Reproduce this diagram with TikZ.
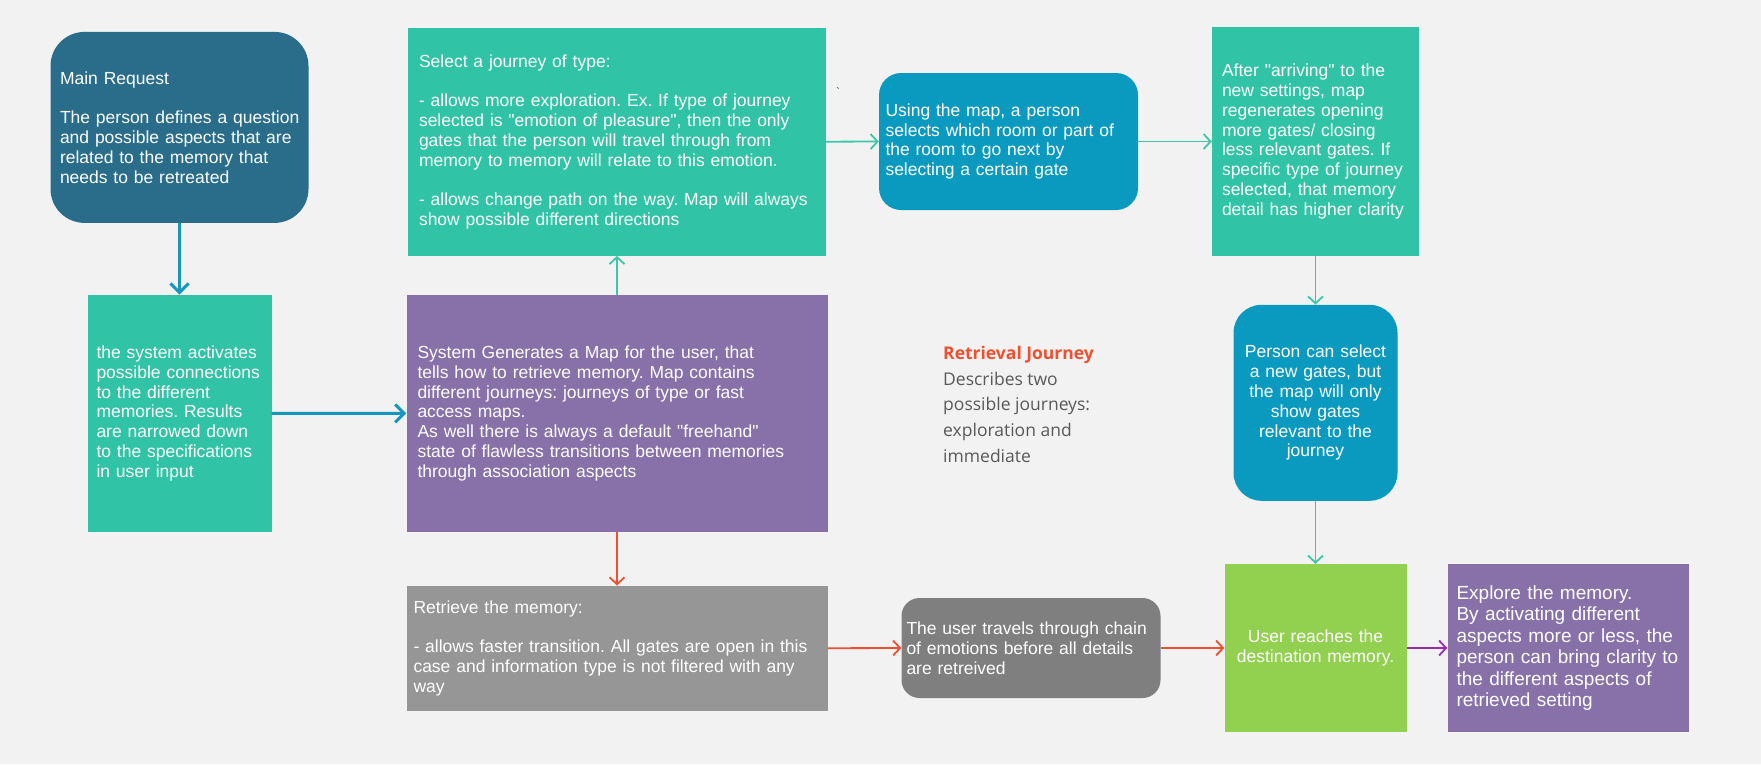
\documentclass[tikz,border=0pt]{standalone}
\usepackage{fontspec}
\setmainfont{Liberation Sans}
\newfontfamily\notefont{Open Sans}
\usetikzlibrary{arrows.meta}
\definecolor{paper}{HTML}{F2F2F2}
\definecolor{deepteal}{HTML}{296D8A}
\definecolor{mint}{HTML}{31C3A5}
\definecolor{violet}{HTML}{8870A9}
\definecolor{ocean}{HTML}{0B9ABF}
\definecolor{stone}{HTML}{969696}
\definecolor{slate}{HTML}{7F7F7F}
\definecolor{lime}{HTML}{92D050}
\definecolor{flowblue}{HTML}{1597BE}
\definecolor{flowmint}{HTML}{3CC8A8}
\definecolor{flowred}{HTML}{F0502F}
\definecolor{flowviolet}{HTML}{9A2BB0}
\definecolor{note}{HTML}{595959}
\frenchspacing
\hyphenpenalty=10000
\newcommand{\qq}{\textquotedbl}

\begin{document}
\begin{tikzpicture}[x=1pt,y=-1pt,text=white,
  font=\fontsize{17.5}{19.8}\selectfont,
  >={Straight Barb[length=7pt,width=15pt]},
  card/.style={inner ysep=0pt,align=left},
  mid/.style={inner ysep=0pt,align=center},
  thin/.style={line width=1.8pt,->},
  thick/.style={line width=3pt,-{Straight Barb[length=9pt,width=18pt]}}]
  \fill[paper] (0,0) rectangle (1761,764);
  \useasboundingbox (0,0) rectangle (1761,764);

  % left column
  \node[card,fill=deepteal,rounded corners=34pt,text width=246pt,
    inner xsep=6pt,minimum height=191pt] (mainreq) at (179.5,127.4)
    {\hspace*{3.5pt}Main Request\\[19.8pt]
     \hspace*{3.5pt}The person defines a question\\
     \hspace*{3.5pt}and possible aspects that are\\
     \hspace*{3.5pt}related to the memory that\\
     \hspace*{3.5pt}needs to be retreated};
  \node[card,fill=mint,text width=166pt,inner xsep=9pt,
    minimum height=237pt] (activate) at (179.5,413.3)
    {the system activates\\possible connections\\to the different\\
     memories. Results\\are narrowed down\\to the specifications\\
     in user input};

  % middle column
  \node[card,fill=mint,text width=396pt,inner xsep=11pt,
    minimum height=228pt] (seltype) at (617,141.7)
    {Select a journey of type:\\[19.8pt]
     - allows more exploration. Ex. If type of journey\\
     selected is \qq emotion of pleasure\qq, then the only\\
     gates that the person will travel through from\\
     memory to memory will relate to this emotion.\\[19.8pt]
     - allows change path on the way. Map will always\\
     show possible different directions};
  \node[card,fill=violet,text width=399pt,inner xsep=11pt,
    minimum height=237pt] (genmap) at (617,413.4)
    {System Generates a Map for the user, that\\
     tells how to retrieve memory. Map contains\\
     different journeys: journeys of type or fast\\
     access maps.\\
     As well there is always a default \qq freehand\qq\\
     state of flawless transitions between memories\\
     through association aspects};
  \node[card,fill=stone,text width=407pt,inner xsep=7pt,
    minimum height=125pt] (retrieve) at (617,648.2)
    {Retrieve the memory:\\[19.8pt]
     - allows faster transition. All gates are open in this\\
     case and information type is not filtered with any\\
     way};
  \node[text=black!70,font=\fontsize{12}{12}\selectfont] (tick)
    at (838,92) {\textasciigrave};

  % right part
  \node[card,fill=ocean,rounded corners=22pt,text width=246pt,
    inner xsep=6.5pt,minimum height=137pt] (usemap) at (1008.5,141.5)
    {Using the map, a person\\selects which room or part of\\
     the room to go next by\\selecting a certain gate};
  \node[card,fill=mint,text width=187pt,inner xsep=10pt,
    minimum height=229pt] (arrive) at (1315.5,141.5)
    {After \qq arriving\qq{} to the\\new settings, map\\
     regenerates opening\\more gates/ closing\\
     less relevant gates. If\\specific type of journey\\
     selected, that memory\\detail has higher clarity};
  \node[mid,fill=ocean,rounded corners=28pt,text width=156pt,
    inner xsep=4pt,minimum height=196pt] (selgate) at (1315.5,402.8)
    {Person can select\\a new gates, but\\the map will only\\
     show gates\\relevant to the\\journey};
  \node[card,fill=slate,rounded corners=18pt,text width=249pt,
    inner xsep=5pt,minimum height=100pt] (travel) at (1031,648)
    {The user travels through chain\\
     of emotions before all details\\are retreived};
  \node[mid,fill=lime,text width=174pt,inner xsep=4pt,
    minimum height=168pt,font=\fontsize{17.5}{20.5}\selectfont]
    (reach) at (1315.5,648)
    {User reaches the\\destination memory.};
  \node[card,fill=violet,text width=223pt,inner xsep=9pt,
    minimum height=168pt,font=\fontsize{19}{21.4}\selectfont]
    (explore) at (1568,648)
    {Explore the memory.\\By activating different\\
     aspects more or less, the\\person can bring clarity to\\
     the different aspects of\\retrieved setting};

  % legend
  \node[anchor=north west,inner sep=0pt,align=left,text=note,
    font=\notefont\fontsize{17.5}{25.7}\selectfont] (legend) at (943,346)
    {\textcolor{flowred}{\bfseries Retrieval Journey}\\Describes two\\
     possible journeys:\\exploration and\\immediate};

  % connectors
  \draw[thick,flowblue] (mainreq.south) -- (activate.north);
  \draw[thick,flowblue] (activate.east) -- (genmap.west);
  \draw[thin,flowmint] (genmap.north) -- (seltype.south);
  \draw[thin,flowmint] (seltype.east) -- (usemap.west);
  \draw[thin,flowmint] (usemap.east) -- (arrive.west);
  \draw[thin,flowmint] (arrive.south) -- (selgate.north);
  \draw[thin,flowmint] (selgate.south) -- (reach.north);
  \draw[thin,flowred] (genmap.south) -- (retrieve.north);
  \draw[thin,flowred] (retrieve.east) -- (travel.west);
  \draw[thin,flowred] (travel.east) -- (reach.west);
  \draw[thin,flowviolet] (reach.east) -- (explore.west);
\end{tikzpicture}
\end{document}
